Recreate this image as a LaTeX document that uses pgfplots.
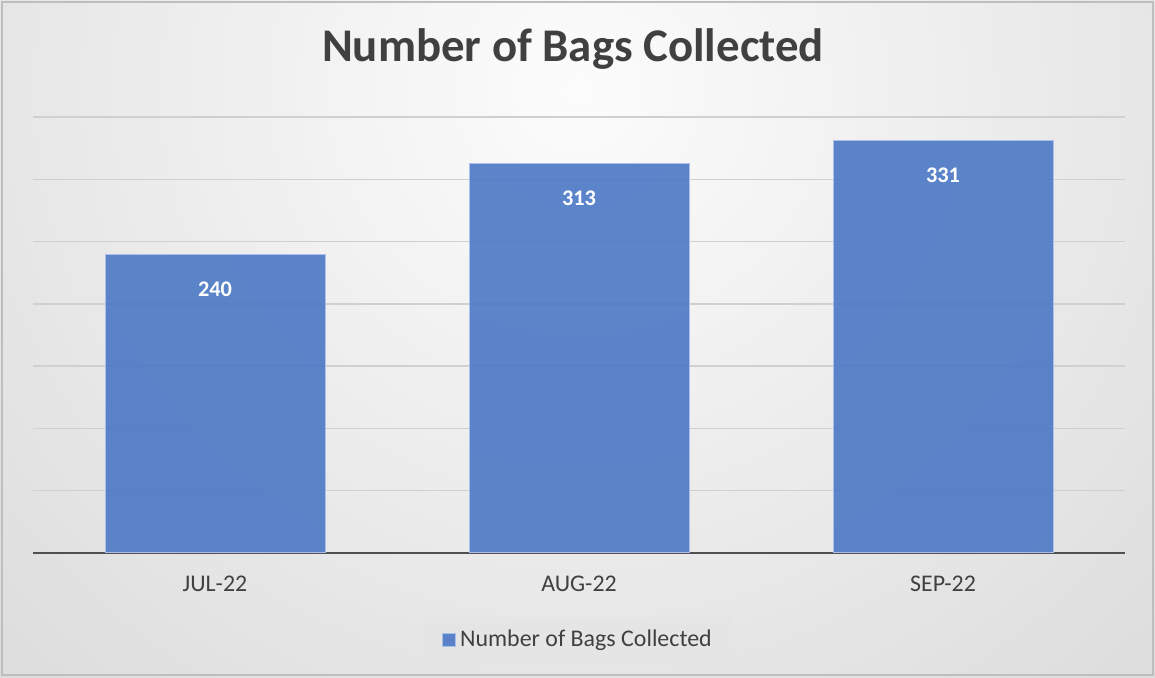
\documentclass[border=0pt]{standalone}
\usepackage{pgfplots}
\pgfplotsset{compat=1.18}
\usepackage{fontspec}
\setmainfont{Carlito}
\definecolor{barblue}{RGB}{76,120,197}
\definecolor{baredge}{RGB}{170,192,232}
\definecolor{txt}{RGB}{64,64,64}
\definecolor{gridc}{RGB}{208,208,208}
\definecolor{basec}{RGB}{80,80,80}
\definecolor{bgin}{RGB}{252,252,252}
\definecolor{bgout}{RGB}{194,194,194}
\definecolor{legbg}{RGB}{229,229,229}
\definecolor{frame}{RGB}{190,190,190}
\begin{document}
\begin{tikzpicture}[x=0.5bp,y=0.5bp]
\useasboundingbox (0,0) rectangle (1155,677);
% background with soft radial gradient
\begin{scope}
  \clip (0,0) rectangle (1155,677);
  \shade[inner color=bgin, outer color=bgout] (578,587) ellipse [x radius=1550, y radius=1500];
\end{scope}
\draw[frame, line width=1bp] (2,2) rectangle (1153,675);

\node[anchor=base, text=txt, font=\fontsize{23.5}{28}\selectfont\bfseries] at (573,615) {Number of Bags Collected};

\begin{axis}[
  at={(16.5bp,62bp)}, anchor=south west,
  scale only axis, width=546bp, height=218bp,
  ybar, bar width=110bp,
  xmin=-0.5, xmax=2.5, ymin=0, ymax=350,
  xtick=data, xticklabels={JUL-22,AUG-22,SEP-22},
  x tick label style={font=\fontsize{12}{14}\selectfont, text=txt, inner sep=0pt, yshift=-11.5bp},
  ytick={50,100,...,350}, yticklabels={},
  y tick label style={inner sep=0pt},
  ymajorgrids, grid style={gridc, line width=0.75bp},
  major tick length=0pt,
  axis line style={draw=none},
  extra y ticks={0}, extra y tick labels={},
  extra y tick style={grid style={basec, line width=0.9bp}},
  /pgf/number format/assume math mode=true,
  nodes near coords, nodes near coords align=below,
  every node near coord/.append style={text=white, text opacity=1, inner sep=0pt, yshift=-13.5bp,
    font=\fontsize{11.2}{13}\selectfont\bfseries},
  legend style={at={(0.5,-0.1995)}, anchor=center, draw=none, fill=legbg,
    font=\fontsize{12}{14}\selectfont, text=txt, inner xsep=9bp, inner ysep=4.5bp},
  legend image code/.code={\draw[#1, line width=0.4bp] (-1bp,-3.25bp) rectangle (5.5bp,3.25bp);},
]
\addplot[fill=barblue, fill opacity=0.9, draw=baredge, line width=0.5bp]
  coordinates {(0,240) (1,313) (2,331)};
\addlegendentry{Number of Bags Collected}
\end{axis}
\end{tikzpicture}
\end{document}
